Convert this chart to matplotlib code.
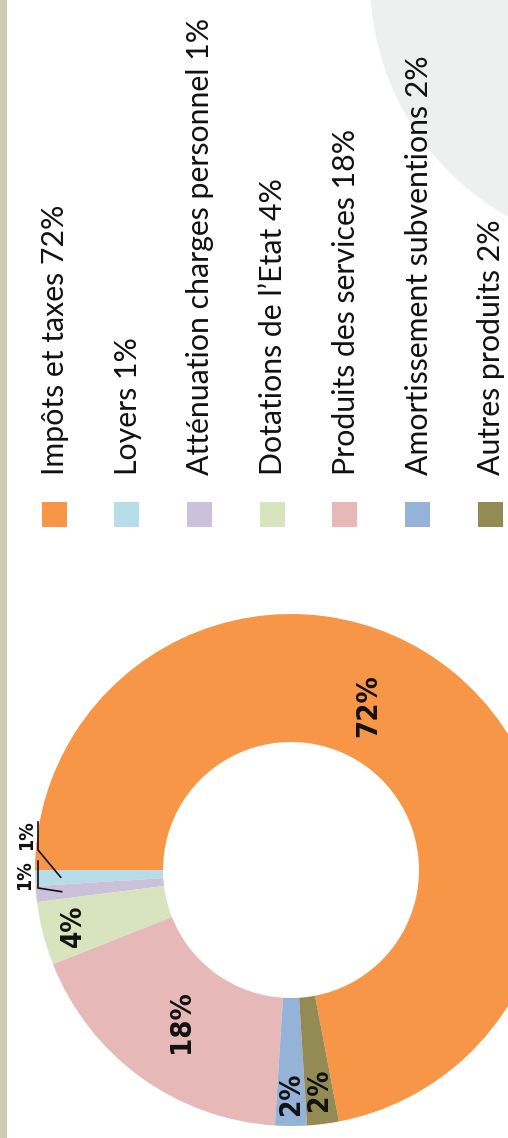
import numpy as np
import matplotlib
matplotlib.use('Agg')
import matplotlib.pyplot as plt
from matplotlib.patches import Rectangle, Circle
from matplotlib import font_manager

labels = ['Impôts et taxes', 'Loyers', 'Atténuation charges personnel',
          'Dotations de l\u2019Etat', 'Produits des services',
          'Amortissement subventions', 'Autres produits']
values = [72, 1, 1, 4, 18, 2, 2]
colors = ['#f79646', '#b7dde8', '#ccc1da', '#d7e4bd', '#e6b9b8', '#95b3d7', '#948a54']

# list condensed fonts present, for the record
names = sorted({f.name + ' / ' + str(f.stretch) for f in font_manager.fontManager.ttflist
                if 'ondens' in f.fname or 'arrow' in f.fname})
print(names)

W, H = 508, 1138
fig = plt.figure(figsize=(W / 100, H / 100), dpi=100)
fig.patch.set_facecolor('white')

# background layer in pixel coords (y down)
bg = fig.add_axes([0, 0, 1, 1])
bg.set_xlim(0, W)
bg.set_ylim(H, 0)
bg.axis('off')
bg.add_patch(Rectangle((0, 0), 7, H, color='#cfcab3', lw=0))
bg.add_patch(Circle((642, -20), 272, color='#eef0f0', lw=0))

# legend (rotated, reads bottom to top)
for i, (lab, v, c) in enumerate(zip(labels, values, colors)):
    xc = 54 + i * 72.7
    bg.add_patch(Rectangle((xc - 12.5, 502), 25, 25, color=c, lw=0))
    bg.text(xc + 10, 475, f'{lab} {v}%', rotation=90, rotation_mode='anchor',
            ha='left', va='baseline', fontsize=21.8, family='Lato', color='#111111')

# donut
cx, cy, R = 291, 870, 256
ax = fig.add_axes([(cx - R) / W, (H - cy - R) / H, 2 * R / W, 2 * R / H])
start = 180 - 360 * values[0] / sum(values)
wedges, _ = ax.pie(values, colors=colors, startangle=start, counterclock=True,
                   radius=1, wedgeprops=dict(width=0.5, linewidth=0))
ax.set_xlim(-1, 1)
ax.set_ylim(-1, 1)
ax.set_aspect('auto')
ax.axis('off')

def pxd(px, py):
    return (px - cx) / R, (cy - py) / R

lab_r = [0.71, 1.04, 1.04, 0.88, 0.73, 0.875, 0.867]
lab_ang = [65, 172.5, 181, None, None, None, None]
lab_fs = [21, 14, 14, 20, 21, 20, 20]
for w, v, r, a, fs in zip(wedges, values, lab_r, lab_ang, lab_fs):
    ang = a if a is not None else (w.theta1 + w.theta2) / 2
    x, y = r * np.cos(np.radians(ang)), r * np.sin(np.radians(ang))
    ax.text(x, y, f'{v}%', rotation=90, ha='center', va='center', fontsize=fs,
            fontweight='bold', family='DejaVu Sans', fontstretch='condensed',
            color='#111111')

# leader lines for the two small slices
for (ux, uy0, uy1), w in zip([(38, 822, 850), (38, 861, 888)], wedges[1:3]):
    mid = np.radians((w.theta1 + w.theta2) / 2)
    tx, ty = 0.9 * np.cos(mid), 0.9 * np.sin(mid)
    a0 = pxd(ux, uy0)
    a1 = pxd(ux, uy1)
    ax.plot([a0[0], a1[0], tx], [a0[1], a1[1], ty], color='#111111', lw=1.2,
            clip_on=False)

fig.savefig('out.png', dpi=100)
